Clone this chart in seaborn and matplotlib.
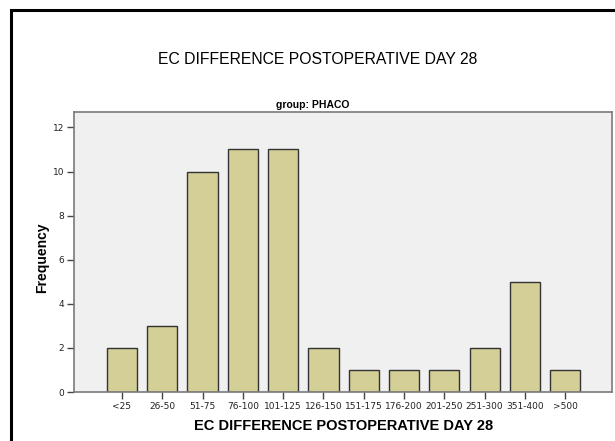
import pandas as pd
import matplotlib.pyplot as plt
import seaborn as sns
from matplotlib.patches import Rectangle

categories = ["<25", "26-50", "51-75", "76-100", "101-125", "126-150",
              "151-175", "176-200", "201-250", "251-300", "351-400", ">500"]
counts = [2, 3, 10, 11, 11, 2, 1, 1, 1, 2, 5, 1]
yticks = [0, 2, 4, 6, 8, 10, 12]

title = "EC DIFFERENCE POSTOPERATIVE DAY 28"
panel = "group: PHACO"

sns.set_style("white")
plt.rcParams["font.family"] = ["Liberation Sans", "DejaVu Sans"]
plt.rcParams["text.color"] = "black"

df = pd.DataFrame({"bin": categories, "freq": counts})

W, H = 615, 441
fig = plt.figure(figsize=(W / 100, H / 100), dpi=100)
fig.patch.set_facecolor("white")

# outer chart frame (only top/left visible in the crop)
fig.patches.append(Rectangle((11 / W, -0.1), 1.2, 1 - 10 / H + 0.1,
                             transform=fig.transFigure, fill=False,
                             edgecolor="black", linewidth=2.2))

ax = fig.add_axes([74 / W, 1 - 392 / H, (612 - 74) / W, (392 - 112) / H])
ax.set_facecolor("#f0f0f0")

sns.barplot(data=df, x="bin", y="freq", order=categories, color="#d3cf97",
            edgecolor="#333333", linewidth=1.0, width=0.75, saturation=1,
            errorbar=None, ax=ax)

ax.set_xlim(-1.19, 12.16)
ax.set_ylim(0, 12.7)
ax.set_yticks(yticks)
ax.set_yticklabels([str(t) for t in yticks])

for s in ax.spines.values():
    s.set_color("#7a7a7a")
    s.set_linewidth(1.2)

ax.tick_params(axis="both", direction="out", length=5, width=1,
               color="#444444", labelsize=6.5, labelcolor="#222222", pad=2)
ax.tick_params(axis="x", bottom=True)
ax.tick_params(axis="y", left=True)
for lab in ax.get_xticklabels() + ax.get_yticklabels():
    lab.set_family("DejaVu Sans")

ax.set_xlabel("")
ax.set_ylabel("")

fig.text(42 / W, 1 - 258 / H, "Frequency", rotation=90, ha="center",
         va="center", fontsize=10, fontweight="bold")
fig.text(344 / W, 1 - 426 / H, title, ha="center", va="center",
         fontsize=10.5, fontweight="bold")
fig.text(318 / W, 1 - 60 / H, title, ha="center", va="center", fontsize=11.3)
fig.text(313 / W, 1 - 105 / H, panel, ha="center", va="center",
         fontsize=7.5, fontweight="bold")

fig.savefig("out.png", dpi=100)
